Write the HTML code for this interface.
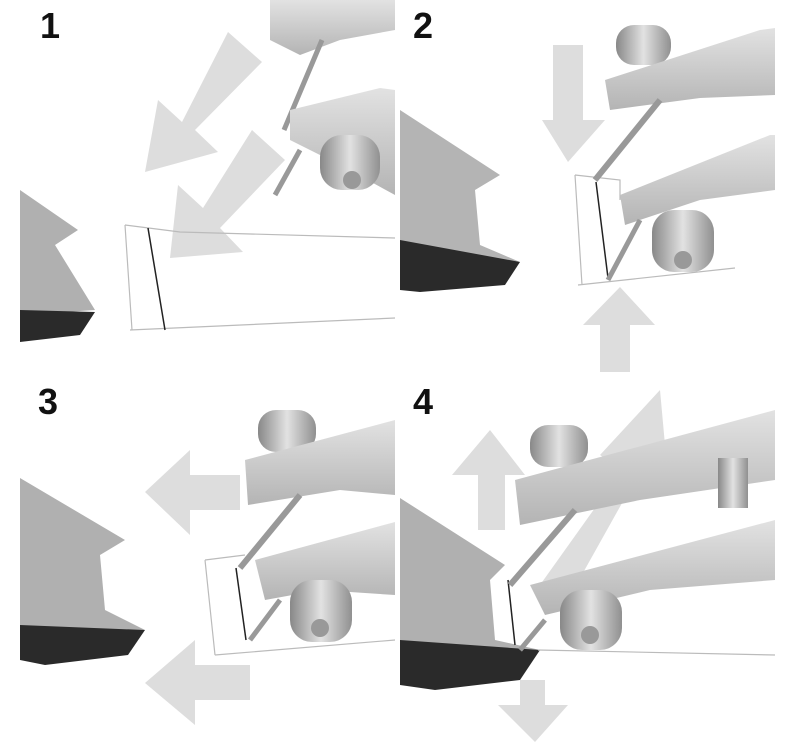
<!DOCTYPE html>
<html><head><style>
html,body{margin:0;padding:0;background:#fff;width:800px;height:750px;overflow:hidden}
svg{display:block}
text{font-family:"Liberation Sans",sans-serif;font-weight:bold;font-size:36px;fill:#111}
</style></head><body>
<svg width="800" height="750" viewBox="0 0 800 750" xmlns="http://www.w3.org/2000/svg">
<defs>
<linearGradient id="m" x1="0" y1="0" x2="0" y2="1"><stop offset="0" stop-color="#e2e2e2"/><stop offset="1" stop-color="#b4b4b4"/></linearGradient>
<linearGradient id="k" x1="0" y1="0" x2="1" y2="0"><stop offset="0" stop-color="#888"/><stop offset=".5" stop-color="#e2e2e2"/><stop offset="1" stop-color="#909090"/></linearGradient>
</defs>
<g fill="#ddd">
<polygon points="228,32 262,62 195,130 218,152 145,172 158,100 182,122"/>
<polygon points="252,130 285,160 220,228 243,252 170,258 178,185 203,208"/>
<polygon points="553,45 583,45 583,120 605,120 568,162 542,120 553,120"/>
<polygon points="600,372 630,372 630,325 655,325 620,287 583,325 600,325"/>
<polygon points="240,475 240,510 190,510 190,535 145,492 190,450 190,475"/>
<polygon points="250,665 250,700 195,700 195,725 145,683 195,640 195,665"/>
<polygon points="478,530 505,530 505,475 525,475 490,430 452,475 478,475"/>
<polygon points="565,605 540,585 622,470 600,455 660,390 668,478 645,462"/>
<polygon points="520,680 545,680 545,705 568,705 535,742 498,705 520,705"/>
</g>
<g font-size="36"><text x="40" y="38">1</text><text x="413" y="38">2</text><text x="38" y="414">3</text><text x="413" y="414">4</text></g>
<g>
<polygon points="20,190 78,230 55,245 95,310 20,315" fill="#b0b0b0"/>
<polygon points="20,310 95,312 80,335 20,342" fill="#2a2a2a"/>
<polygon points="400,110 500,175 475,190 480,245 520,262 400,262" fill="#b4b4b4"/>
<polygon points="400,240 520,262 505,285 420,292 400,290" fill="#2a2a2a"/>
<polygon points="20,478 125,540 100,555 105,610 145,630 20,630" fill="#b0b0b0"/>
<polygon points="20,625 145,630 128,655 45,665 20,660" fill="#2a2a2a"/>
<polygon points="400,498 505,565 490,580 495,640 540,650 400,650" fill="#b0b0b0"/>
<polygon points="400,640 540,650 520,680 435,690 400,685" fill="#2a2a2a"/>
</g>
<g fill="none" stroke="#bbb" stroke-width="1.2">
<path d="M125,225 L180,232 L395,238 M130,330 L395,318 M125,225 L132,330"/>
<path d="M575,175 L620,180 L620,200 M578,285 L735,268 M575,175 L582,285"/>
<path d="M205,560 L245,555 M215,655 L395,640 M205,560 L215,655"/>
<path d="M538,650 L775,655"/>
</g>
<g stroke="#222" stroke-width="1.5" fill="none">
<path d="M148,228 L165,330"/><path d="M596,182 L608,278"/><path d="M236,568 L246,640"/><path d="M508,580 L515,645"/>
</g>
<g>
<polygon points="270,0 395,0 395,30 340,40 300,55 270,40" fill="url(#m)"/>
<line x1="322" y1="40" x2="284" y2="130" stroke="#999" stroke-width="5"/>
<polygon points="290,110 380,88 395,90 395,195 340,165 290,140" fill="url(#m)"/>
<line x1="300" y1="150" x2="275" y2="195" stroke="#999" stroke-width="5"/>
<rect x="320" y="135" width="60" height="55" rx="22" fill="url(#k)"/>
<circle cx="352" cy="180" r="9" fill="#999"/>
</g>
<g>
<rect x="616" y="25" width="55" height="40" rx="18" fill="url(#k)"/>
<polygon points="605,80 760,30 775,28 775,95 700,98 610,110" fill="url(#m)"/>
<line x1="660" y1="100" x2="595" y2="180" stroke="#999" stroke-width="6"/>
<polygon points="620,195 770,135 775,135 775,190 700,200 625,225" fill="url(#m)"/>
<line x1="640" y1="220" x2="608" y2="280" stroke="#999" stroke-width="5"/>
<rect x="652" y="210" width="62" height="62" rx="22" fill="url(#k)"/>
<circle cx="683" cy="260" r="9" fill="#999"/>
</g>
<g>
<rect x="258" y="410" width="58" height="42" rx="18" fill="url(#k)"/>
<polygon points="245,460 395,420 395,495 340,490 248,505" fill="url(#m)"/>
<line x1="300" y1="495" x2="240" y2="568" stroke="#999" stroke-width="6"/>
<polygon points="255,560 395,522 395,595 320,590 265,600" fill="url(#m)"/>
<line x1="280" y1="600" x2="250" y2="640" stroke="#999" stroke-width="5"/>
<rect x="290" y="580" width="62" height="62" rx="22" fill="url(#k)"/>
<circle cx="320" cy="628" r="9" fill="#999"/>
</g>
<g>
<rect x="530" y="425" width="58" height="42" rx="18" fill="url(#k)"/>
<polygon points="515,480 775,410 775,480 640,500 520,525" fill="url(#m)"/>
<rect x="718" y="458" width="30" height="50" fill="url(#k)"/>
<line x1="575" y1="510" x2="510" y2="585" stroke="#999" stroke-width="6"/>
<polygon points="530,585 775,520 775,580 650,590 545,615" fill="url(#m)"/>
<line x1="545" y1="620" x2="520" y2="650" stroke="#999" stroke-width="5"/>
<rect x="560" y="590" width="62" height="60" rx="22" fill="url(#k)"/>
<circle cx="590" cy="635" r="9" fill="#999"/>
</g>
</svg>
</body></html>
